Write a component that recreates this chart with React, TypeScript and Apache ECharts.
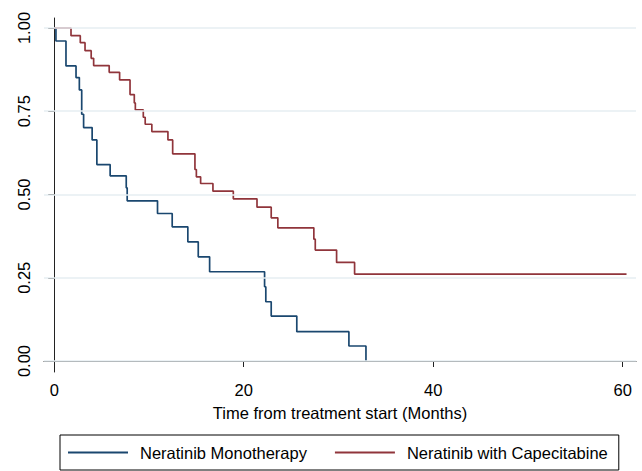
import React, { useEffect, useRef } from "react";
import * as echarts from "echarts";

const seriesNames = ["Neratinib Monotherapy", "Neratinib with Capecitabine"];

// Kaplan-Meier steps: [time (months), survival]
const monoTimes = [0, 0.18, 1.24, 2.3, 2.65, 2.9, 3.1, 4.0, 4.5, 5.9, 7.6, 7.7, 10.9, 12.45, 14.1, 15.2, 16.4, 22.2, 22.33, 22.9, 25.6, 31.1, 32.9];
const monoSurv = [1, 0.961, 0.886, 0.851, 0.814, 0.741, 0.701, 0.664, 0.59, 0.556, 0.52, 0.481, 0.443, 0.403, 0.358, 0.313, 0.268, 0.223, 0.178, 0.135, 0.088, 0.045, 0];

const capeTimes = [0, 1.77, 2.75, 3.25, 3.9, 4.16, 5.8, 6.9, 8.0, 8.45, 8.56, 9.4, 9.6, 10.3, 12.0, 12.5, 14.85, 15.0, 15.45, 16.75, 18.9, 21.4, 22.9, 23.6, 27.4, 27.55, 29.8, 31.7, 60.4];
const capeSurv = [1, 0.977, 0.956, 0.932, 0.909, 0.887, 0.867, 0.844, 0.8, 0.775, 0.754, 0.732, 0.711, 0.689, 0.664, 0.622, 0.575, 0.553, 0.533, 0.51, 0.487, 0.462, 0.43, 0.4, 0.366, 0.333, 0.296, 0.261, 0.261];

const xTicks = [0, 20, 40, 60];
const yTicks = [0, 0.25, 0.5, 0.75, 1];
const xTitle = "Time from treatment start (Months)";

const FONT = "'Liberation Sans', Arial, sans-serif";
const BLUE = "#1a476f";
const RED = "#90353b";

export default function App() {
  const ref = useRef<HTMLDivElement>(null);
  useEffect(() => {
    if (!ref.current) return;
    const chart = echarts.init(ref.current, null, { renderer: "svg" });
    const mono = monoTimes.map((t, i) => [t, monoSurv[i]]);
    const cape = capeTimes.map((t, i) => [t, capeSurv[i]]);
    chart.setOption({
      animation: false,
      backgroundColor: "#ffffff",
      textStyle: { fontFamily: FONT },
      grid: { left: 44, right: 6, top: 18, bottom: 99, containLabel: false },
      legend: {
        data: seriesNames,
        left: 60,
        top: 435,
        orient: "horizontal",
        padding: [9, 11, 9, 8],
        itemGap: 28,
        itemWidth: 60,
        itemHeight: 2,
        icon: "rect",
        borderColor: "#000000",
        borderWidth: 1,
        textStyle: { fontSize: 16.5, color: "#000", fontFamily: FONT, padding: [0, 0, 0, 7] },
      },
      xAxis: {
        type: "value",
        min: -1.08,
        max: 61.4,
        name: xTitle,
        nameLocation: "middle",
        nameGap: 32,
        nameTextStyle: { fontSize: 16.5, color: "#000", fontFamily: FONT },
        axisLine: { show: true, lineStyle: { color: "#222", width: 1 } },
        axisTick: { show: true, length: 6, customValues: xTicks, lineStyle: { color: "#222" } },
        axisLabel: { customValues: xTicks, fontSize: 16.5, color: "#000", margin: 9, fontFamily: FONT },
        splitLine: { show: false },
      },
      yAxis: {
        type: "value",
        min: -0.033,
        max: 1.03,
        axisLine: { show: true, lineStyle: { color: "#222", width: 1 } },
        axisTick: { show: true, length: 6, customValues: yTicks, lineStyle: { color: "#222" } },
        axisLabel: {
          customValues: yTicks,
          rotate: 90,
          fontSize: 16.5,
          color: "#000",
          margin: 12,
          fontFamily: FONT,
          formatter: (v: number) => v.toFixed(2),
        },
        splitLine: { show: false },
      },
      series: [
        {
          type: "line",
          name: "grid",
          data: [],
          silent: true,
          z: 1,
          markLine: {
            silent: true,
            symbol: ["none", "none"],
            label: { show: false },
            lineStyle: { color: "#e6eef2", width: 1.5, type: "solid" },
            data: yTicks.map((v) => ({ yAxis: v })),
          },
        },
        {
          type: "line",
          name: seriesNames[0],
          data: mono,
          step: "end",
          showSymbol: false,
          symbol: "none",
          z: 3,
          color: BLUE,
          lineStyle: { color: BLUE, width: 1.7 },
        },
        {
          type: "line",
          name: seriesNames[1],
          data: cape,
          step: "end",
          showSymbol: false,
          symbol: "none",
          z: 3,
          color: RED,
          lineStyle: { color: RED, width: 1.7 },
        },
      ],
    });
    return () => chart.dispose();
  }, []);
  return (
    <div
      ref={ref}
      style={{ position: "absolute", left: 0, top: 0, width: 642, height: 471, background: "#fff" }}
    />
  );
}
